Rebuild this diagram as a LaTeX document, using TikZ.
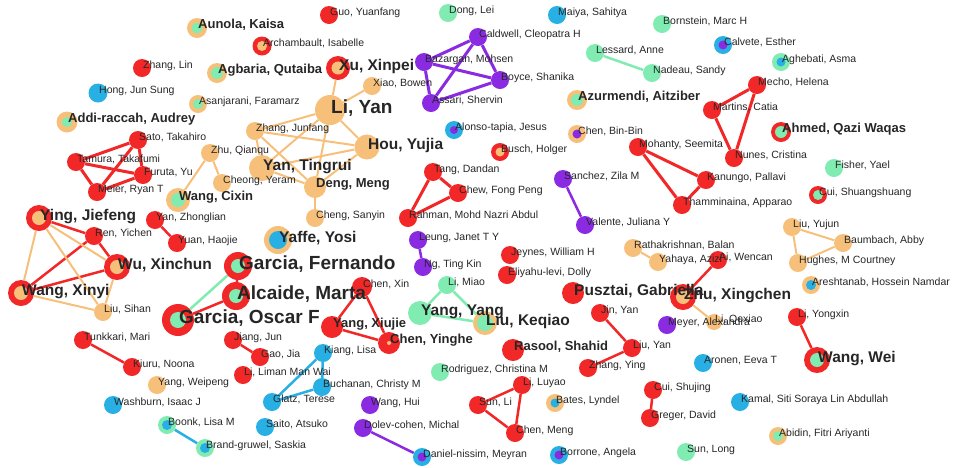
\documentclass[tikz,border=0pt]{standalone}
\usepackage{fontspec}
\setmainfont{Liberation Sans}
\pgfdeclarelayer{edges}
\pgfdeclarelayer{labels}
\pgfsetlayers{edges,main,labels}
\definecolor{cR}{RGB}{242,40,40}
\definecolor{cO}{RGB}{247,192,122}
\definecolor{cG}{RGB}{128,236,178}
\definecolor{cB}{RGB}{40,176,228}
\definecolor{cP}{RGB}{138,43,226}
\tikzset{
  eR/.style={draw=cR,line width=2.5pt},
  eO/.style={draw=cO,line width=2pt},
  eG/.style={draw=cG,line width=2.5pt},
  eB/.style={draw=cB,line width=2.5pt},
  eP/.style={draw=cP,line width=2.5pt},
  thick3/.style={line width=3pt},
  labS/.style={anchor=base west,inner sep=0pt,text=black!85,yshift=-0.5pt,font=\fontsize{10.5}{12}\selectfont},
  labM/.style={anchor=base west,inner sep=0pt,text=black!85,yshift=-0.5pt,font=\fontsize{13}{14}\selectfont\bfseries},
  labL/.style={anchor=base west,inner sep=0pt,text=black!85,yshift=-2pt,font=\fontsize{15.5}{17}\selectfont\bfseries},
  labX/.style={anchor=base west,inner sep=0pt,text=black!85,yshift=-3pt,font=\fontsize{19}{20}\selectfont\bfseries},
  dot/.style={circle,inner sep=0pt,draw=none}
}
\newcommand\AU[9]{%
  \node[dot,fill=#4,minimum size={2*#5pt}] (#1) at (#2,#3) {};
  \fill[#6] (#1.center) circle[radius=#7pt];
  \begin{pgfonlayer}{labels}
  \node[lab#8] (#1l) at ([xshift=1pt]#1.center) {#9};
  \end{pgfonlayer}%
}
\begin{document}
\begin{tikzpicture}[x=1pt,y=-1pt]
\useasboundingbox (0,0) rectangle (959,467);
% nodes
\AU{aunola}{197}{28}{cO}{10}{cG}{5.5}{M}{Aunola, Kaisa}
\AU{zhanglin}{142}{68}{cR}{9}{cR}{0}{S}{Zhang, Lin}
\AU{agbaria}{217}{73}{cO}{10}{cG}{6}{M}{Agbaria, Qutaiba}
\AU{hong}{98}{93}{cB}{9.5}{cB}{0}{S}{Hong, Jun Sung}
\AU{asanjarani}{198}{104}{cO}{9}{cG}{5}{S}{Asanjarani, Faramarz}
\AU{addi}{67}{122}{cO}{10.5}{cG}{5}{M}{Addi-raccah, Audrey}
\AU{sato}{138}{140}{cR}{9}{cR}{0}{S}{Sato, Takahiro}
\AU{tamura}{76}{162}{cR}{9}{cR}{0}{S}{Tamura, Takafumi}
\AU{furuta}{143}{175}{cR}{9}{cR}{0}{S}{Furuta, Yu}
\AU{meier}{97}{192}{cR}{9}{cR}{0}{S}{Meier, Ryan T}
\AU{zhuq}{210}{153}{cO}{9}{cO}{0}{S}{Zhu, Qianqu}
\AU{cheong}{222}{183}{cO}{9}{cO}{0}{S}{Cheong, Yeram}
\AU{wangcx}{178}{200}{cO}{12}{cG}{7}{M}{Wang, Cixin}
\AU{guo}{329}{15}{cR}{9}{cR}{0}{S}{Guo, Yuanfang}
\AU{archambault}{262}{46}{cR}{9.5}{cO}{5}{S}{Archambault, Isabelle}
\AU{xu}{338}{68}{cR}{12}{cO}{6.5}{L}{Xu, Xinpei}
\AU{xiao}{372}{86}{cO}{9}{cO}{0}{S}{Xiao, Bowen}
\AU{liyan}{330}{110}{cO}{15}{cO}{0}{X}{Li, Yan}
\AU{zhangjf}{255}{131}{cO}{9}{cO}{0}{S}{Zhang, Junfang}
\AU{hou}{367}{147}{cO}{12.5}{cO}{0}{L}{Hou, Yujia}
\AU{yant}{262}{168}{cO}{13}{cO}{0}{L}{Yan, Tingrui}
\AU{deng}{315}{187}{cO}{11}{cO}{0}{M}{Deng, Meng}
\AU{cheng}{315}{218}{cO}{9}{cO}{0}{S}{Cheng, Sanyin}
\AU{dong}{448}{13}{cG}{9}{cG}{0}{S}{Dong, Lei}
\AU{mohsen}{424}{62}{cP}{9}{cP}{0}{S}{Bazargan, Mohsen}
\AU{caldwell}{478}{37}{cP}{9}{cP}{0}{S}{Caldwell, Cleopatra H}
\AU{boyce}{500}{80}{cP}{9}{cP}{0}{S}{Boyce, Shanika}
\AU{shervin}{431}{103}{cP}{9}{cP}{0}{S}{Assari, Shervin}
\AU{alonso}{454}{130}{cB}{9}{cP}{4}{S}{Alonso-tapia, Jesus}
\AU{maiya}{557}{15}{cB}{9}{cB}{0}{S}{Maiya, Sahitya}
\AU{bornstein}{662}{24}{cG}{9}{cG}{0}{S}{Bornstein, Marc H}
\AU{lessard}{595}{53}{cG}{9}{cG}{0}{S}{Lessard, Anne}
\AU{nadeau}{652}{73}{cG}{9}{cG}{0}{S}{Nadeau, Sandy}
\AU{azurmendi}{577}{100}{cO}{10}{cG}{6}{M}{Azurmendi, Aitziber}
\AU{chenbb}{577}{134}{cO}{9}{cP}{4.5}{S}{Chen, Bin-Bin}
\AU{busch}{500}{152}{cR}{9}{cO}{4.5}{S}{Busch, Holger}
\AU{mohanty}{638}{147}{cR}{9}{cR}{0}{S}{Mohanty, Seemita}
\AU{calvete}{723}{45}{cB}{9}{cP}{4.5}{S}{Calvete, Esther}
\AU{aghebati}{781}{62}{cG}{9}{cB}{4.5}{S}{Aghebati, Asma}
\AU{mecho}{757}{85}{cR}{9}{cR}{0}{S}{Mecho, Helena}
\AU{martins}{712}{110}{cR}{9}{cR}{0}{S}{Martins, Catia}
\AU{ahmed}{781}{132}{cR}{10}{cG}{6}{M}{Ahmed, Qazi Waqas}
\AU{nunes}{734}{158}{cR}{9}{cR}{0}{S}{Nunes, Cristina}
\AU{fisher}{834}{168}{cG}{9}{cG}{0}{S}{Fisher, Yael}
\AU{kanungo}{706}{180}{cR}{9}{cR}{0}{S}{Kanungo, Pallavi}
\AU{thamm}{682}{205}{cR}{9}{cR}{0}{S}{Thamminaina, Apparao}
\AU{cui}{818}{195}{cR}{9}{cG}{5}{S}{Cui, Shuangshuang}
\AU{liuyj}{792}{227}{cO}{9}{cO}{0}{S}{Liu, Yujun}
\AU{baumbach}{843}{243}{cO}{9}{cO}{0}{S}{Baumbach, Abby}
\AU{hughes}{798}{263}{cO}{9}{cO}{0}{S}{Hughes, M Courtney}
\AU{areshtanab}{811}{285}{cO}{9}{cB}{5}{S}{Areshtanab, Hossein Namdar}
\AU{liyx}{797}{317}{cR}{9}{cR}{0}{S}{Li, Yongxin}
\AU{wangwei}{817}{360}{cR}{13}{cG}{7}{L}{Wang, Wei}
\AU{sanchez}{563}{179}{cP}{9}{cP}{0}{S}{Sanchez, Zila M}
\AU{valente}{585}{225}{cP}{9}{cP}{0}{S}{Valente, Juliana Y}
\AU{jeynes}{510}{255}{cR}{9}{cR}{0}{S}{Jeynes, William H}
\AU{eliyahu}{507}{275}{cR}{9}{cR}{0}{S}{Eliyahu-levi, Dolly}
\AU{ratha}{633}{248}{cO}{9}{cO}{0}{S}{Rathakrishnan, Balan}
\AU{yahaya}{658}{262}{cO}{9}{cO}{0}{S}{Yahaya, Azizi}
\AU{aiw}{718}{260}{cR}{9}{cR}{0}{S}{Ai, Wencan}
\AU{pusztai}{573}{293}{cR}{11}{cR}{0}{L}{Pusztai, Gabriella}
\AU{zhux}{683}{297}{cR}{13}{cO}{7}{L}{Zhu, Xingchen}
\AU{liqx}{714}{322}{cO}{8}{cO}{0}{S}{Li, Qexiao}
\AU{meyer}{667}{325}{cP}{9}{cP}{0}{S}{Meyer, Alexandra}
\AU{liuk}{485}{323}{cO}{12}{cG}{8}{L}{Liu, Keqiao}
\AU{jin}{600}{313}{cR}{9}{cR}{0}{S}{Jin, Yan}
\AU{rasool}{513}{350}{cR}{11}{cR}{0}{M}{Rasool, Shahid}
\AU{liuyan}{632}{348}{cR}{9}{cR}{0}{S}{Liu, Yan}
\AU{zhangying}{588}{368}{cR}{9}{cR}{0}{S}{Zhang, Ying}
\AU{aronen}{703}{363}{cB}{9}{cB}{0}{S}{Aronen, Eeva T}
\AU{rodriguez}{440}{372}{cG}{9}{cG}{0}{S}{Rodriguez, Christina M}
\AU{liluyao}{522}{385}{cR}{9}{cR}{0}{S}{Li, Luyao}
\AU{sunli}{478}{405}{cR}{9}{cR}{0}{S}{Sun, Li}
\AU{chenmeng}{515}{433}{cR}{9}{cR}{0}{S}{Chen, Meng}
\AU{bates}{555}{403}{cO}{9}{cB}{4.5}{S}{Bates, Lyndel}
\AU{cuis}{653}{390}{cR}{9}{cR}{0}{S}{Cui, Shujing}
\AU{greger}{650}{418}{cR}{9}{cR}{0}{S}{Greger, David}
\AU{borrone}{559}{455}{cB}{9}{cP}{4.5}{S}{Borrone, Angela}
\AU{sunlong}{686}{452}{cG}{9}{cG}{0}{S}{Sun, Long}
\AU{kamal}{740}{402}{cB}{9}{cB}{0}{S}{Kamal, Siti Soraya Lin Abdullah}
\AU{abidin}{778}{436}{cO}{9}{cG}{5}{S}{Abidin, Fitri Ariyanti}
\AU{yangxj}{332}{327}{cR}{11}{cR}{0}{M}{Yang, Xiujie}
\AU{chenyh}{389}{343}{cR}{11}{cO}{2}{M}{Chen, Yinghe}
\AU{chenxin}{362}{287}{cR}{10}{cR}{0}{S}{Chen, Xin}
\AU{jiangjun}{233}{340}{cR}{9}{cR}{0}{S}{Jiang, Jun}
\AU{gaojia}{260}{357}{cR}{9}{cR}{0}{S}{Gao, Jia}
\AU{lilm}{243}{375}{cR}{9}{cR}{0}{S}{Li, Liman Man Wai}
\AU{kiang}{323}{353}{cB}{9}{cB}{0}{S}{Kiang, Lisa}
\AU{buchanan}{322}{387}{cB}{9}{cB}{0}{S}{Buchanan, Christy M}
\AU{glatz}{272}{402}{cB}{9}{cB}{0}{S}{Glatz, Terese}
\AU{saito}{265}{427}{cB}{9}{cB}{0}{S}{Saito, Atsuko}
\AU{wanghui}{370}{405}{cP}{9}{cP}{0}{S}{Wang, Hui}
\AU{dolev}{363}{428}{cP}{9}{cP}{0}{S}{Dolev-cohen, Michal}
\AU{daniel}{422}{457}{cB}{9}{cP}{4.5}{S}{Daniel-nissim, Meyran}
\AU{brand}{205}{448}{cG}{9}{cB}{5}{S}{Brand-gruwel, Saskia}
\AU{tunkkari}{83}{340}{cR}{9}{cR}{0}{S}{Tunkkari, Mari}
\AU{kiuru}{132}{367}{cR}{9}{cR}{0}{S}{Kiuru, Noona}
\AU{yangwp}{157}{385}{cO}{9}{cO}{0}{S}{Yang, Weipeng}
\AU{washburn}{113}{405}{cB}{9}{cB}{0}{S}{Washburn, Isaac J}
\AU{boonk}{167}{425}{cG}{9}{cB}{5}{S}{Boonk, Lisa M}
\AU{ying}{39}{218}{cR}{13}{cO}{7}{L}{Ying, Jiefeng}
\AU{ren}{94}{236}{cR}{9}{cR}{0}{S}{Ren, Yichen}
\AU{yanzl}{155}{220}{cR}{9}{cR}{0}{S}{Yan, Zhonglian}
\AU{yuanhj}{177}{243}{cR}{9}{cR}{0}{S}{Yuan, Haojie}
\AU{wuxc}{117}{267}{cR}{13}{cO}{7}{L}{Wu, Xinchun}
\AU{wangxy}{21}{293}{cR}{13}{cO}{7}{L}{Wang, Xinyi}
\AU{liusihan}{103}{312}{cO}{9}{cO}{0}{S}{Liu, Sihan}
\AU{yaffe}{278}{240}{cO}{14}{cB}{9}{L}{Yaffe, Yosi}
\AU{garciaf}{238}{266}{cR}{14}{cG}{7}{X}{Garcia, Fernando}
\AU{alcaide}{236}{296}{cR}{14}{cG}{7}{X}{Alcaide, Marta}
\AU{garciao}{178}{320}{cR}{16}{cG}{8}{X}{Garcia, Oscar F}
\AU{tang}{433}{172}{cR}{9}{cR}{0}{S}{Tang, Dandan}
\AU{chew}{458}{193}{cR}{9}{cR}{0}{S}{Chew, Fong Peng}
\AU{rahman}{408}{218}{cR}{9}{cR}{0}{S}{Rahman, Mohd Nazri Abdul}
\AU{leung}{418}{240}{cP}{9}{cP}{0}{S}{Leung, Janet T Y}
\AU{ng}{423}{267}{cP}{9}{cP}{0}{S}{Ng, Ting Kin}
\AU{limiao}{447}{285}{cG}{9}{cG}{0}{S}{Li, Miao}
\AU{yangyang}{420}{313}{cG}{12}{cG}{0}{L}{Yang, Yang}
% edges
\begin{pgfonlayer}{edges}
\draw[eP,thick3] (mohsen) -- (caldwell);
\draw[eP,thick3] (mohsen) -- (boyce);
\draw[eP,thick3] (mohsen) -- (shervin);
\draw[eP,thick3] (caldwell) -- (shervin);
\draw[eP,thick3] (caldwell) -- (boyce);
\draw[eP,thick3] (boyce) -- (shervin);
\draw[eG] (lessard) -- (nadeau);
\draw[eR,thick3] (mecho) -- (martins);
\draw[eR,thick3] (mecho) -- (nunes);
\draw[eR,thick3] (martins) -- (nunes);
\draw[eR,thick3] (mohanty) -- (kanungo);
\draw[eR,thick3] (mohanty) -- (thamm);
\draw[eR,thick3] (kanungo) -- (thamm);
\draw[eR,thick3] (sato) -- (tamura);
\draw[eR,thick3] (sato) -- (furuta);
\draw[eR,thick3] (sato) -- (meier);
\draw[eR,thick3] (tamura) -- (furuta);
\draw[eR,thick3] (tamura) -- (meier);
\draw[eR,thick3] (furuta) -- (meier);
\draw[eO] (zhuq) -- (wangcx);
\draw[eO] (zhuq) -- (cheong);
\draw[eO] (liyan) -- (xu);
\draw[eO] (liyan) -- (xiao);
\draw[eO] (liyan) -- (zhangjf);
\draw[eO] (liyan) -- (hou);
\draw[eO] (liyan) -- (deng);
\draw[eO] (liyan) -- (yant);
\draw[eO] (zhangjf) -- (hou);
\draw[eO] (zhangjf) -- (yant);
\draw[eO] (zhangjf) -- (deng);
\draw[eO] (yant) -- (hou);
\draw[eO] (yant) -- (deng);
\draw[eO] (deng) -- (hou);
\draw[eO] (deng) -- (cheng);
\draw[eR] (ying) -- (ren);
\draw[eR] (ren) -- (wuxc);
\draw[eR] (ren) -- (wangxy);
\draw[eR] (wuxc) -- (wangxy);
\draw[eO] (ying) -- (wuxc);
\draw[eO] (ying) -- (wangxy);
\draw[eO] (ying) -- (liusihan);
\draw[eO] (wuxc) -- (liusihan);
\draw[eO] (wangxy) -- (liusihan);
\draw[eR] (yanzl) -- (yuanhj);
\draw[eR] (garciaf) -- (alcaide);
\draw[eR] (alcaide) -- (garciao);
\draw[eG] (garciaf) -- (garciao);
\draw[eR,thick3] (tang) -- (chew);
\draw[eR,thick3] (tang) -- (rahman);
\draw[eR,thick3] (chew) -- (rahman);
\draw[eP] (leung) -- (ng);
\draw[eP] (sanchez) -- (valente);
\draw[eG] (limiao) -- (yangyang);
\draw[eG] (limiao) -- (liuk);
\draw[eG] (yangyang) -- (liuk);
\draw[eR] (chenxin) -- (yangxj);
\draw[eR] (chenxin) -- (chenyh);
\draw[eR] (yangxj) -- (chenyh);
\draw[eR] (jiangjun) -- (gaojia);
\draw[eB] (kiang) -- (buchanan);
\draw[eB] (kiang) -- (glatz);
\draw[eB] (buchanan) -- (glatz);
\draw[eP] (dolev) -- (daniel);
\draw[eR] (tunkkari) -- (kiuru);
\draw[eB] (boonk) -- (brand);
\draw[eO] (ratha) -- (yahaya);
\draw[eR] (zhux) -- (aiw);
\draw[eO] (zhux) -- (liqx);
\draw[eR] (jin) -- (liuyan);
\draw[eR] (liuyan) -- (zhangying);
\draw[eR] (liluyao) -- (sunli);
\draw[eR] (liluyao) -- (chenmeng);
\draw[eR] (sunli) -- (chenmeng);
\draw[eR] (cuis) -- (greger);
\draw[eR] (liyx) -- (wangwei);
\draw[eO] (liuyj) -- (baumbach);
\draw[eO] (liuyj) -- (hughes);
\draw[eO] (baumbach) -- (hughes);
\end{pgfonlayer}
\end{tikzpicture}
\end{document}
